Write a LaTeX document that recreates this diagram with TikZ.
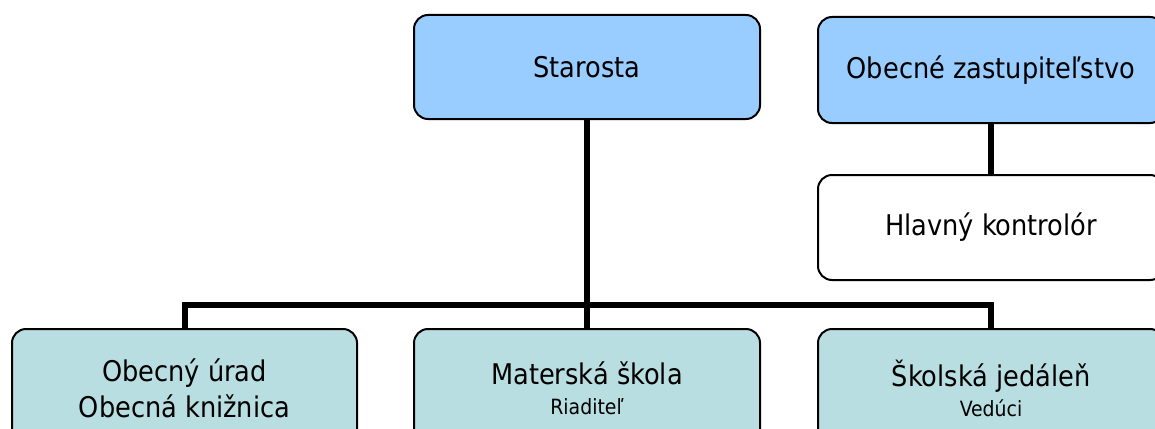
\documentclass[tikz,border=0pt]{standalone}
\usepackage{fontspec}
\setmainfont{DejaVu Sans Condensed}
\definecolor{boxblue}{HTML}{99CCFF}
\definecolor{boxteal}{HTML}{B8DEE2}
\begin{document}
\begin{tikzpicture}[x=1pt,y=-1pt,
  orgbox/.style={draw=black, line width=2pt, rounded corners=14pt, inner sep=0pt,
    minimum width=346pt, align=center, font=\fontsize{28.5}{36}\selectfont},
  topbox/.style={orgbox, fill=boxblue, minimum height=104pt},
  whitebox/.style={orgbox, fill=white, minimum height=105pt},
  unitbox/.style={orgbox, fill=boxteal, minimum height=118pt},
  conn/.style={line width=6pt, line join=miter, line cap=butt}]
\useasboundingbox (0,0) rectangle (1155,428);
\clip (0,0) rectangle (1155,428);
\node[topbox] (sta) at (587,67) {Starosta};
\node[topbox, minimum height=106pt] (zas) at (991,70) {Obecné zastupiteľstvo};
\node[whitebox] (kon) at (991,227.5) {Hlavný kontrolór};
\node[unitbox, minimum width=345pt] (ur) at (184.5,388) {Obecný úrad\\Obecná knižnica};
\node[unitbox] (ms) at (587,388) {Materská škola\\[-6pt]{\fontsize{21}{25}\selectfont Riaditeľ}};
\node[unitbox] (sj) at (991,388) {Školská jedáleň\\[-6pt]{\fontsize{21}{25}\selectfont Vedúci}};
\coordinate (bus) at (587,305);
\draw[conn] (sta.south) -- (ms.north);
\draw[conn] (ur.north) |- (bus) -| (sj.north);
\draw[conn] (zas.south) -- (kon.north);
\end{tikzpicture}
\end{document}
